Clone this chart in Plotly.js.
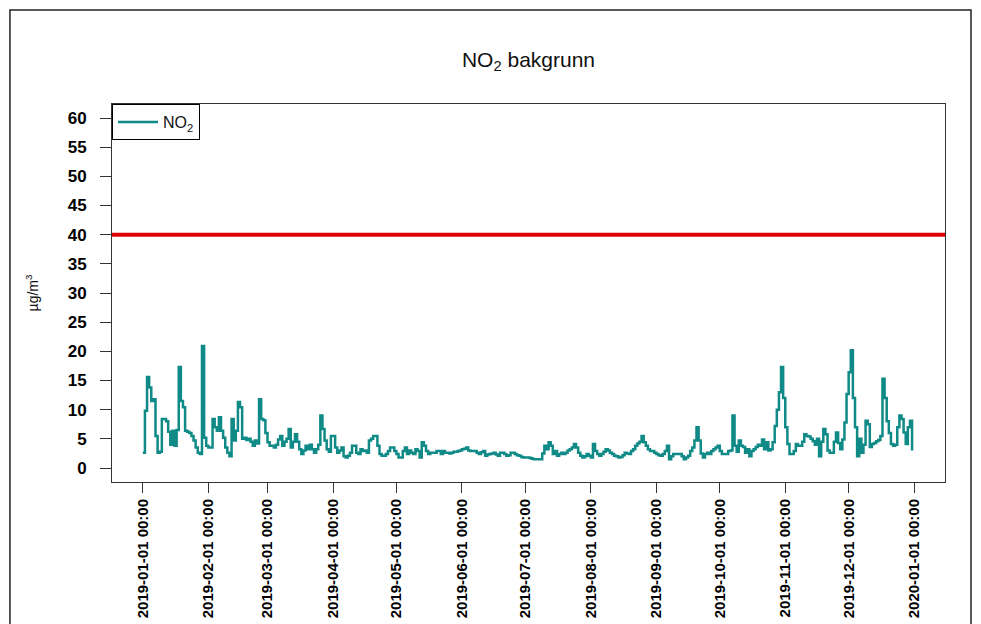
<!DOCTYPE html>
<html>
<head>
<meta charset="utf-8">
<script src="https://cdn.plot.ly/plotly-3.0.1.min.js"></script>
<style>
  html, body { margin: 0; padding: 0; background: #fff; }
  #chart { width: 981px; height: 624px; }
</style>
</head>
<body>
<div id="chart"></div>
<script>
// Daily NO2 values, 2019-01-01 .. 2019-12-31
var startDate = "2019-01-01";
var no2 = [
  2.6, 9.8, 15.6, 13.8, 11.5, 11.8, 5.5, 2.6, 2.8, 8.4,
  8.4, 8.0, 6.2, 4.0, 6.4, 3.8, 6.5, 17.3, 11.5, 10.4,
  6.4, 6.2, 6.0, 5.5, 4.7, 3.5, 2.6, 2.4, 20.9, 5.2,
  3.8, 3.5, 3.5, 8.4, 7.0, 6.4, 8.7, 6.4, 5.2, 3.5,
  2.6, 2.0, 8.4, 4.7, 6.4, 11.3, 10.4, 5.0, 5.2, 4.8,
  5.0, 4.5, 3.8, 4.7, 4.2, 11.8, 8.4, 8.2, 6.0, 4.4,
  3.8, 3.8, 3.5, 4.0, 4.9, 5.5, 3.8, 4.5, 5.0, 6.7,
  3.5, 4.5, 5.8, 4.5, 3.2, 2.4, 3.0, 3.8, 3.2, 4.0,
  3.2, 2.6, 3.2, 4.0, 9.0, 6.7, 4.7, 3.2, 2.8, 5.5,
  5.5, 3.5, 2.6, 3.0, 3.5, 2.0, 1.8, 2.1, 2.6, 3.8,
  3.8, 2.6, 2.4, 3.2, 2.9, 3.0, 2.6, 4.7, 5.0, 5.5,
  5.5, 3.8, 2.4, 2.1, 2.1, 2.4, 2.9, 3.5, 3.5, 2.9,
  2.4, 1.8, 1.8, 2.9, 3.5, 2.4, 3.0, 2.6, 2.4, 3.2,
  2.9, 1.8, 4.4, 3.8, 2.9, 2.4, 2.6, 2.6, 2.6, 2.9,
  2.9, 2.4, 2.9, 2.6, 2.6, 2.5, 2.6, 2.8, 2.8, 2.9,
  3.0, 3.2, 3.3, 3.5, 3.0, 2.9, 2.9, 2.9, 2.6, 2.4,
  2.7, 2.9, 2.1, 2.3, 2.4, 2.5, 2.6, 2.3, 2.1, 2.6,
  2.6, 2.4, 2.1, 2.2, 2.6, 2.6, 2.4, 2.2, 2.1, 1.9,
  1.8, 1.8, 1.8, 1.7, 1.6, 1.5, 1.5, 1.5, 1.5, 2.5,
  3.8, 3.2, 4.4, 3.8, 2.4, 2.9, 2.1, 2.4, 2.6, 2.4,
  2.6, 3.0, 3.2, 3.5, 4.1, 3.5, 2.6, 2.1, 1.8, 2.0,
  2.4, 2.1, 1.8, 4.1, 2.9, 2.4, 2.1, 2.4, 2.8, 3.2,
  3.0, 2.6, 2.4, 2.1, 2.0, 1.8, 1.9, 2.2, 2.6, 2.5,
  2.4, 2.9, 3.2, 3.8, 4.2, 4.5, 5.5, 4.4, 3.8, 3.2,
  2.9, 2.9, 2.6, 2.4, 2.2, 2.1, 2.4, 2.9, 3.8, 1.5,
  2.0, 2.4, 2.4, 2.4, 2.4, 2.0, 1.5, 1.8, 2.1, 2.9,
  3.5, 4.7, 7.0, 4.7, 2.5, 1.8, 2.4, 2.6, 2.4, 2.9,
  3.2, 3.5, 3.8, 2.9, 2.4, 2.4, 2.4, 2.9, 3.0, 9.0,
  3.8, 2.8, 4.7, 3.8, 3.6, 2.6, 3.2, 2.0, 2.9, 3.2,
  3.6, 4.0, 3.8, 4.9, 3.2, 4.4, 3.0, 3.2, 4.4, 7.2,
  10.0, 13.0, 17.3, 12.0, 7.0, 4.1, 2.4, 2.4, 2.9, 4.1,
  3.8, 3.8, 4.5, 5.8, 5.5, 5.4, 5.0, 4.6, 4.0, 5.0,
  2.0, 4.5, 6.7, 5.8, 3.0, 2.6, 2.6, 4.5, 6.1, 4.3,
  3.2, 4.9, 7.8, 12.7, 16.4, 20.2, 12.0, 7.0, 2.0, 5.0,
  2.6, 4.0, 8.1, 7.5, 3.6, 4.1, 4.3, 4.6, 4.8, 5.5,
  15.3, 12.0, 8.0, 6.0, 4.1, 3.8, 4.0, 7.0, 9.0, 8.4,
  6.1, 4.1, 7.0, 8.1, 3.0
];
var limitValue = 40;
var yTicks = [0, 5, 10, 15, 20, 25, 30, 35, 40, 45, 50, 55, 60];
var xTickDates = ["2019-01-01", "2019-02-01", "2019-03-01", "2019-04-01", "2019-05-01",
  "2019-06-01", "2019-07-01", "2019-08-01", "2019-09-01", "2019-10-01",
  "2019-11-01", "2019-12-01", "2020-01-01"];
var xTickLabels = xTickDates.map(function (d) { return d + " 00:00"; });

// build daily date strings
var dates = [];
var base = new Date(startDate + "T00:00:00Z");
for (var i = 0; i < no2.length; i++) {
  var dt = new Date(base.getTime() + i * 86400000);
  dates.push(dt.toISOString().slice(0, 10));
}

var trace = {
  x: dates,
  y: no2,
  type: "scatter",
  mode: "lines",
  name: "NO<sub>2</sub>",
  line: { color: "#0f8a86", width: 2.5, shape: "hv" }
};

var layout = {
  width: 981,
  height: 624,
  margin: { l: 112, r: 36, t: 104, b: 142 },
  paper_bgcolor: "#ffffff",
  plot_bgcolor: "#ffffff",
  font: { family: "Liberation Sans, Arial, sans-serif", color: "#000" },
  title: {
    text: "NO<sub>2</sub> bakgrunn",
    font: { size: 21, color: "#111" },
    x: 0.5, xref: "paper", xanchor: "center",
    y: 0.905, yref: "container", yanchor: "middle"
  },
  showlegend: true,
  legend: {
    x: 0, y: 1, xanchor: "left", yanchor: "top",
    bgcolor: "#ffffff", bordercolor: "#000", borderwidth: 1,
    font: { size: 16, color: "#111" },
    itemwidth: 40
  },
  xaxis: {
    type: "date",
    range: ["2018-12-17 10:00", "2020-01-15 14:00"],
    tickmode: "array",
    tickvals: xTickDates,
    ticktext: xTickLabels,
    tickangle: -90,
    tickfont: { size: 15, weight: "bold", color: "#000" },
    ticks: "outside", ticklen: 10, tickwidth: 1, tickcolor: "#333",
    showgrid: false, zeroline: false,
    showline: true, mirror: true, linecolor: "#333", linewidth: 1
  },
  yaxis: {
    range: [-2.4, 62.4],
    tickmode: "array",
    tickvals: yTicks,
    tickfont: { size: 17, weight: "bold", color: "#000" },
    ticks: "outside", ticklen: 11, tickwidth: 1, tickcolor: "#333",
    ticklabelstandoff: 10,
    showgrid: false, zeroline: false,
    showline: true, mirror: true, linecolor: "#333", linewidth: 1,
    title: { text: "µg/m<sup>3</sup>", font: { size: 14, color: "#111" }, standoff: 25 }
  },
  shapes: [
    {
      type: "line", xref: "paper", yref: "y",
      x0: 0, x1: 1, y0: limitValue, y1: limitValue,
      line: { color: "#e00000", width: 4 }
    },
    {
      type: "rect", xref: "paper", yref: "paper",
      x0: -0.1225, x1: 1.0312, y0: -0.45, y1: 1.2487,
      line: { color: "#222", width: 1.5 }, fillcolor: "rgba(0,0,0,0)", layer: "above"
    }
  ]
};

Plotly.newPlot("chart", [trace], layout, { displayModeBar: false, staticPlot: true });
</script>
</body>
</html>
